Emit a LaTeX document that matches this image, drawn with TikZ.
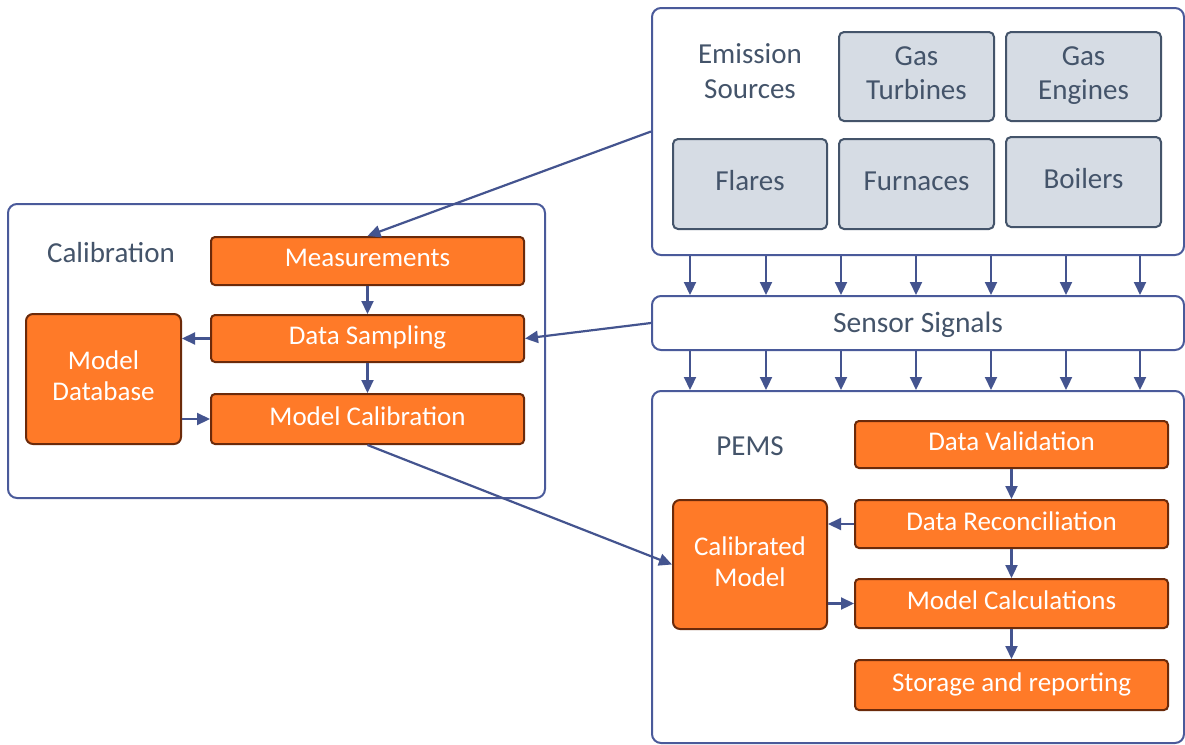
\documentclass[tikz,border=0pt]{standalone}
\usepackage{fontspec}
\setmainfont{Carlito}
\usetikzlibrary{arrows.meta}
\definecolor{cont}{HTML}{4A5A9A}
\definecolor{arrc}{HTML}{44548F}
\definecolor{slate}{HTML}{44546A}
\definecolor{grayf}{HTML}{D6DCE4}
\definecolor{orf}{HTML}{FF7A28}
\definecolor{orb}{HTML}{6B2A0A}
\tikzset{
  container/.style={draw=cont, line width=2pt, rounded corners=9pt, fill=white, inner sep=0pt},
  gbox/.style={draw=slate, line width=2pt, rounded corners=5pt, fill=grayf, text=slate, align=center, inner sep=0pt, text depth=6.5pt, font=\fontsize{29}{34}\selectfont},
  obox/.style={draw=orb, line width=2pt, rounded corners=4pt, fill=orf, text=white, align=center, inner sep=0pt, text depth=6pt, font=\fontsize{27}{31}\selectfont},
  lbl/.style={text=slate, align=center, font=\fontsize{29}{35}\selectfont},
  arr/.style={draw=arrc, line width=2.2pt, -{Triangle[width=12pt,length=13pt]}},
}
\begin{document}
\begin{tikzpicture}[x=1pt,y=-1pt]
\useasboundingbox (0,0) rectangle (1185,744);
% containers
\node[container, minimum width=532pt, minimum height=247pt] (em) at (918,131.5) {};
\node[container, minimum width=532pt, minimum height=54pt, text=slate, text depth=1pt, font=\fontsize{29.5}{34}\selectfont] (ss) at (918,323) {Sensor Signals};
\node[container, minimum width=532pt, minimum height=352pt] (pems) at (918,567) {};
\node[container, minimum width=537pt, minimum height=294pt] (cal) at (276.5,351) {};
% emission sources
\node[lbl] (eslbl) at (750,71) {Emission\\Sources};
\node[gbox, minimum width=155pt, minimum height=89pt] (gt) at (916.5,76.5) {Gas\\Turbines};
\node[gbox, minimum width=155pt, minimum height=89pt] (ge) at (1083.5,76.5) {Gas\\Engines};
\node[gbox, minimum width=154pt, minimum height=90pt] (fl) at (750,184) {Flares};
\node[gbox, minimum width=155pt, minimum height=90pt] (fu) at (916.5,184) {Furnaces};
\node[gbox, minimum width=155pt, minimum height=90pt] (bo) at (1083.5,182) {Boilers};
% calibration
\node[lbl] (callbl) at (111,253) {Calibration};
\node[obox, minimum width=313pt, minimum height=48pt] (meas) at (367.5,261) {Measurements};
\node[obox, minimum width=313pt, minimum height=47pt] (ds) at (367.5,338.5) {Data Sampling};
\node[obox, minimum width=313pt, minimum height=50pt] (mc) at (367.5,419) {Model Calibration};
\node[obox, minimum width=155pt, minimum height=130pt, rounded corners=7pt] (mdb) at (103.5,379) {Model\\Database};
% pems
\node[lbl] (pemslbl) at (750,446) {PEMS};
\node[obox, minimum width=313pt, minimum height=47pt] (dv) at (1011.5,444.5) {Data Validation};
\node[obox, minimum width=313pt, minimum height=48pt] (dr) at (1011.5,524) {Data Reconciliation};
\node[obox, minimum width=313pt, minimum height=49pt] (mcal) at (1011.5,603.5) {Model Calculations};
\node[obox, minimum width=313pt, minimum height=50pt] (sr) at (1011.5,685) {Storage and reporting};
\node[obox, minimum width=154pt, minimum height=129pt, rounded corners=7pt] (cm) at (750,564.5) {Calibrated\\Model};
% connectors
\draw[arr] (em.west) -- (meas.north);
\draw[arr] (ss.west) -- (ds.east);
\draw[arr] (meas.south) -- (ds.north);
\draw[arr] (ds.south) -- (mc.north);
\draw[arr] (ds.west) -- (ds.west -| mdb.east);
\draw[arr] (mdb.east |- mc.west) -- (mc.west);
\draw[arr] (mc.south) -- (cm.west);
\draw[arr] (dv.south) -- (dr.north);
\draw[arr] (dr.south) -- (mcal.north);
\draw[arr] (mcal.south) -- (sr.north);
\draw[arr] (dr.west) -- (dr.west -| cm.east);
\draw[arr] (cm.east |- mcal.west) -- (mcal.west);
\foreach \x in {690,766,841,916,991,1066,1140}{
  \draw[arr] (\x,0 |- em.south) -- (\x,0 |- ss.north);
  \draw[arr] (\x,0 |- ss.south) -- (\x,0 |- pems.north);
}
\end{tikzpicture}
\end{document}
